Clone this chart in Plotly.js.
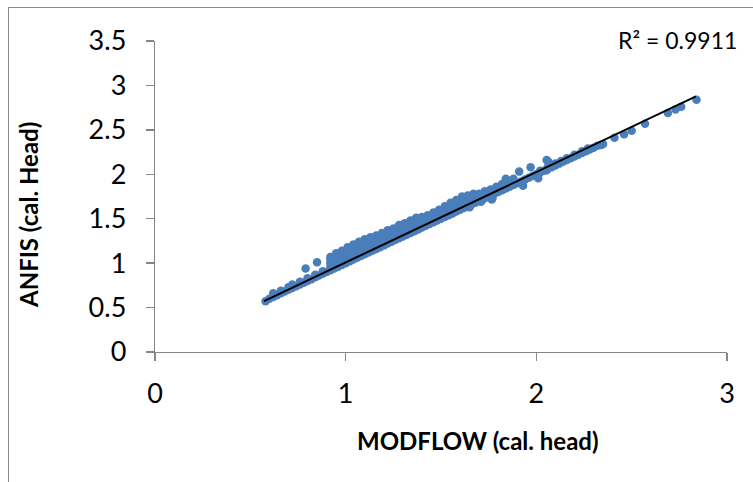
<!DOCTYPE html>
<html>
<head>
<meta charset="utf-8">
<script src="https://cdn.plot.ly/plotly-3.0.1.min.js"></script>
<style>
  html, body { margin: 0; padding: 0; background: #fff; }
  #wrap { position: relative; width: 753px; height: 482px; overflow: hidden; }
  #chart { position: absolute; left: 0; top: 0; width: 753px; height: 482px; }
  #frame { position: absolute; left: 8px; top: 7px; width: 760px; height: 490px;
           border-left: 1.5px solid #8a8a8a; border-top: 1.5px solid #8a8a8a; pointer-events: none; }
</style>
</head>
<body>
<div id="wrap"><div id="chart"></div><div id="frame"></div></div>
<script>
// MODFLOW calculated head (x) vs ANFIS calculated head (y)
const modflowHead = [
  // lower band
  0.58,0.60,0.62,0.64,0.66,0.68,0.70,0.72,0.74,0.76,0.78,0.80,0.82,0.84,0.86,0.88,0.90,0.92,0.94,0.96,
  0.98,1.00,1.02,1.04,1.06,1.08,1.10,1.12,1.14,1.16,1.18,1.20,1.22,1.24,1.26,1.28,1.30,1.32,1.34,1.36,
  1.38,1.40,1.42,1.44,1.46,1.48,1.50,1.52,1.54,1.56,1.58,1.60,1.62,1.64,1.66,1.68,1.70,1.72,1.74,1.76,
  1.78,1.80,1.82,1.84,1.86,1.88,1.90,1.92,1.94,1.96,1.98,2.00,2.02,2.04,2.06,2.08,2.10,2.12,2.14,2.16,
  2.18,2.20,2.22,2.24,2.26,2.28,2.30,2.32,2.34,2.35,2.41,2.46,2.50,2.57,2.69,2.73,2.76,2.84,
  // second layer of lower band
  0.62,0.66,0.70,0.72,0.76,0.80,0.84,0.88,2.02,2.06,2.10,2.13,2.16,2.20,2.24,2.27,
  // upper cloud
  0.92,0.92,0.92,0.92,
  0.95,0.95,0.95,0.95,
  0.98,0.98,0.98,0.98,
  1.01,1.01,1.01,1.01,
  1.04,1.04,1.04,1.04,
  1.07,1.07,1.07,1.07,
  1.10,1.10,1.10,1.10,
  1.13,1.13,1.13,1.13,
  1.16,1.16,1.16,1.16,
  1.19,1.19,1.19,1.19,
  1.22,1.22,1.22,1.22,
  1.25,1.25,1.25,1.25,
  1.28,1.28,1.28,1.28,
  1.31,1.31,1.31,1.31,
  1.34,1.34,1.34,1.34,
  1.37,1.37,1.37,1.37,
  1.40,1.40,1.40,
  1.43,1.43,1.43,
  1.46,1.46,1.46,
  1.49,1.49,1.49,
  1.52,1.52,1.52,
  1.55,1.55,1.55,
  1.58,1.58,1.58,
  1.61,1.61,1.61,
  1.64,1.64,1.64,
  1.67,1.67,1.67,
  1.70,1.70,
  1.73,1.73,
  1.76,1.76,
  1.79,1.79,
  1.82,1.82,
  1.85,1.85,
  1.88,1.88,
  // scattered points
  0.79,0.85,1.91,1.84,1.97,2.054,2.063,2.054,2.01,1.93,1.766,1.65,1.71,1.77,1.81
];
const anfisHead = [
  // lower band
  0.57,0.60,0.62,0.64,0.66,0.68,0.70,0.72,0.74,0.76,0.78,0.80,0.82,0.84,0.86,0.88,0.90,0.92,0.94,0.96,
  0.98,1.00,1.02,1.04,1.06,1.08,1.10,1.12,1.14,1.16,1.18,1.20,1.22,1.24,1.26,1.28,1.30,1.32,1.34,1.36,
  1.38,1.40,1.42,1.44,1.46,1.48,1.50,1.52,1.54,1.56,1.58,1.60,1.62,1.64,1.66,1.68,1.70,1.72,1.74,1.76,
  1.78,1.80,1.82,1.84,1.86,1.88,1.90,1.92,1.94,1.96,1.98,2.00,2.02,2.04,2.06,2.08,2.10,2.12,2.14,2.16,
  2.18,2.20,2.22,2.24,2.26,2.28,2.30,2.32,2.33,2.34,2.41,2.45,2.49,2.57,2.69,2.73,2.76,2.84,
  // second layer of lower band
  0.66,0.69,0.73,0.76,0.79,0.83,0.87,0.91,2.04,2.08,2.12,2.15,2.18,2.22,2.26,2.29,
  // upper cloud
  0.96,1.00,1.04,1.07,
  0.99,1.03,1.07,1.11,
  1.02,1.06,1.10,1.14,
  1.05,1.09,1.13,1.18,
  1.08,1.12,1.16,1.21,
  1.11,1.15,1.19,1.24,
  1.14,1.18,1.22,1.27,
  1.17,1.21,1.25,1.29,
  1.20,1.24,1.28,1.31,
  1.23,1.27,1.31,1.34,
  1.26,1.30,1.34,1.37,
  1.29,1.33,1.37,1.39,
  1.32,1.36,1.40,1.43,
  1.35,1.39,1.43,1.45,
  1.38,1.42,1.46,1.48,
  1.41,1.45,1.49,1.51,
  1.44,1.48,1.52,
  1.47,1.51,1.54,
  1.50,1.54,1.57,
  1.53,1.57,1.60,
  1.56,1.60,1.64,
  1.59,1.63,1.68,
  1.62,1.66,1.71,
  1.65,1.69,1.75,
  1.68,1.72,1.76,
  1.71,1.75,1.78,
  1.74,1.78,
  1.77,1.81,
  1.80,1.83,
  1.83,1.86,
  1.86,1.89,
  1.89,1.93,
  1.92,1.95,
  // scattered points
  0.94,1.01,2.03,1.95,2.08,2.16,2.14,2.045,1.955,1.87,1.716,1.63,1.69,1.73,1.86
];
// linear trend line end points (as drawn)
const trendX = [0.572, 2.837];
const trendY = [0.573, 2.876];
const rSquaredText = "R² = 0.9911";
const xTickVals = [0, 1, 2, 3];
const yTickVals = [0, 0.5, 1, 1.5, 2, 2.5, 3, 3.5];
const xTitle = "MODFLOW (cal. head)";
const yTitle = "ANFIS (cal. Head)";

const FONT = "Lato, 'Open Sans', sans-serif";
const AX = "#868686";

const traces = [
  {
    x: modflowHead, y: anfisHead, type: "scatter", mode: "markers",
    marker: { color: "#4a7ebb", size: 8.5, line: { width: 0 } },
    hoverinfo: "skip", showlegend: false
  },
  {
    x: trendX, y: trendY, type: "scatter", mode: "lines",
    line: { color: "#000000", width: 2 },
    hoverinfo: "skip", showlegend: false
  }
];

const L = 155, R = 26, T = 41, B = 130, W = 753, H = 482;
const pw = W - L - R, ph = H - T - B;
const px = v => (v - L) / pw;
const py = v => (H - B - v) / ph;

const layout = {
  width: W, height: H,
  margin: { l: L, r: R, t: T, b: B, pad: 0 },
  paper_bgcolor: "#ffffff", plot_bgcolor: "#ffffff",
  showlegend: false,
  font: { family: FONT, color: "#000000", size: 24 },
  xaxis: {
    range: [0, 3], tickvals: xTickVals, ticktext: xTickVals.map(String),
    showgrid: false, zeroline: false, showline: true, linecolor: AX, linewidth: 1.3,
    ticks: "outside", ticklen: 8, tickcolor: AX, tickwidth: 1.3,
    tickfont: { family: FONT, size: 27, color: "#000" }, ticklabelstandoff: 9,
    fixedrange: true
  },
  yaxis: {
    range: [0, 3.5], tickvals: yTickVals, ticktext: yTickVals.map(String),
    showgrid: false, zeroline: false, showline: true, linecolor: AX, linewidth: 1.3,
    ticks: "outside", ticklen: 8, tickcolor: AX, tickwidth: 1.3,
    tickfont: { family: FONT, size: 27, color: "#000" }, ticklabelstandoff: 14,
    fixedrange: true
  },
  annotations: [
    { text: "<b>" + xTitle + "</b>", xref: "paper", yref: "paper",
      x: px(478), y: py(440), xanchor: "center", yanchor: "middle", showarrow: false,
      font: { family: FONT, size: 24, color: "#000" } },
    { text: "<b>" + yTitle + "</b>", xref: "paper", yref: "paper", textangle: -90,
      x: px(28), y: py(215), xanchor: "center", yanchor: "middle", showarrow: false,
      font: { family: FONT, size: 24, color: "#000" } },
    { text: rSquaredText, xref: "paper", yref: "paper",
      x: px(739), y: py(40), xanchor: "right", yanchor: "middle", showarrow: false,
      font: { family: FONT, size: 23, color: "#000" } }
  ]
};

Plotly.newPlot("chart", traces, layout, { displayModeBar: false, staticPlot: true });
</script>
</body>
</html>
